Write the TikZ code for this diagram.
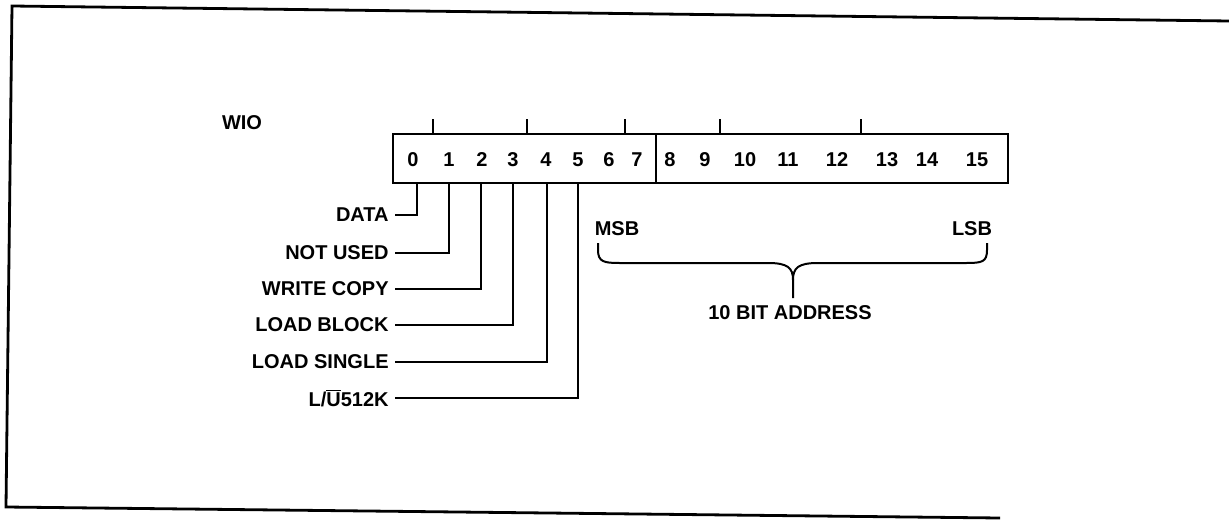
\documentclass[tikz,border=0pt]{standalone}
\usepackage{fontspec}
\setmainfont{Liberation Sans}
\usepackage{tikz}
\usetikzlibrary{calc,positioning}

\tikzset{
  bit/.style={font=\bfseries, inner sep=0pt},
  lbl/.style={font=\bfseries, inner xsep=3pt, inner ysep=0pt, anchor=east},
  wire/.style={line width=1pt},
  heavy/.style={line width=1.4pt}
}

\begin{document}
\begin{tikzpicture}[x=0.5pt,y=-0.5pt]
  %\draw[color=gray,step=10, help lines,opacity=0.3] (0,0) grid (1229,519); %help grids
  \useasboundingbox (0,0) rectangle (1229,519);
  % frame of the figure (scan is a little skewed)
  \draw[heavy] (1229,21) -- (12,6) -- (6,507) -- (1000,518);
  % register
  \coordinate (regNW) at (393,134);
  \coordinate (regSE) at (1008,183);
  \coordinate (mid) at (656,134);
  \draw[heavy] (regNW) rectangle (regSE);
  \draw[heavy] (mid) -- (mid |- regSE);
  \node[bit] (wio) at (242,123) {WIO};
  \foreach \x in {433,527,625,720,861}
    \draw[wire] (\x,134) -- ++(0,-15);
  \foreach \b/\x in {0/413,1/449,2/482,3/513,4/546,5/578,6/609,7/637,
                     8/670,9/705,10/745,11/788,12/837,13/887,14/927,15/977}
    \node[bit] (b\b) at (\x,160) {\b};
  % control bits
  \foreach \b/\x/\y/\t in {0/417/215/DATA,1/449/253/NOT USED,2/481/289/WRITE COPY,
                           3/513/325/LOAD BLOCK,4/547/362/LOAD SINGLE,
                           5/578/398/{L/$\overline{\hbox{U}}$512K}}{
    \coordinate (t\b) at (\x,183);
    \node[lbl] (l\b) at (395,\y) {\t};
    \draw[wire] (l\b.east) -| (t\b);
  }
  % address field
  \node[bit] (msb) at (617,229) {MSB};
  \node[bit] (lsb) at (972,229) {LSB};
  \node[bit] (addr) at (790,313) {10 BIT ADDRESS};
  \coordinate (tip) at (793,298);
  \draw[wire] (598,243) -- (598,250) .. controls (598,262) and (604,263) .. (620,263)
    -- (768,263) .. controls (788,263) and (793,268) .. (793,280) -- (tip);
  \draw[wire] (793,280) .. controls (793,268) and (798,263) .. (818,263)
    -- (966,263) .. controls (982,263) and (987,262) .. (987,250) -- (987,243);
\end{tikzpicture}
\end{document}
